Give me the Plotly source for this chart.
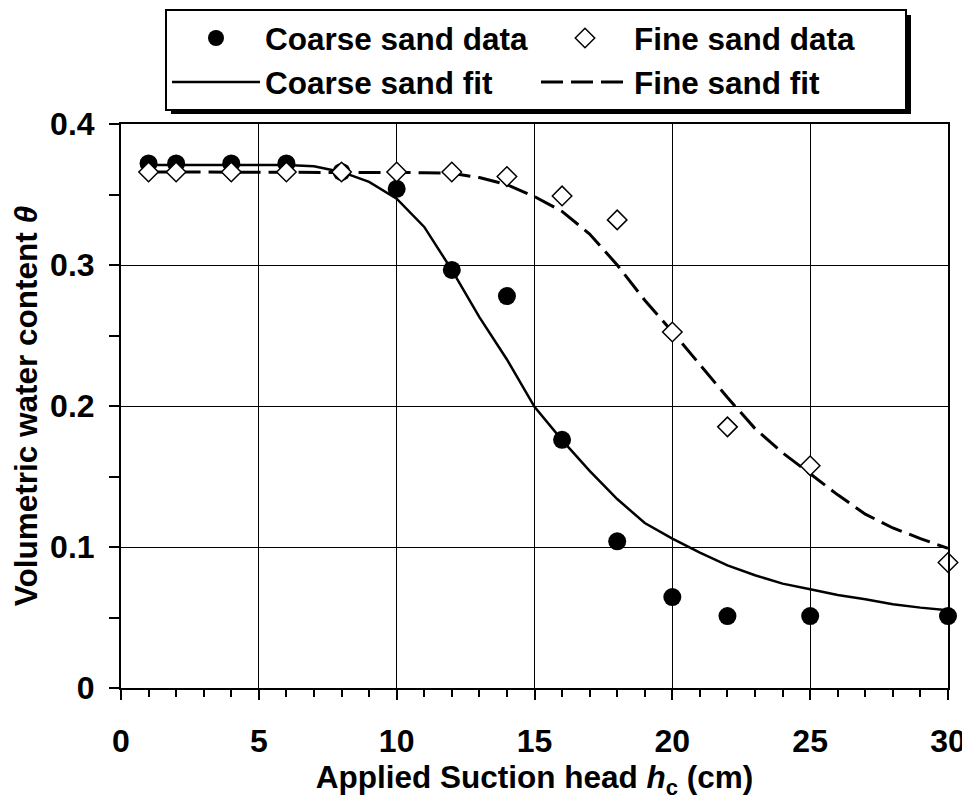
import plotly.graph_objects as go

# ---- data ----
head_data = [1, 2, 4, 6, 8, 10, 12, 14, 16, 18, 20, 22, 25, 30]
coarse_data = [0.372, 0.372, 0.372, 0.372, 0.366, 0.354, 0.2965, 0.278, 0.176, 0.104, 0.0645, 0.051, 0.051, 0.051]
fine_data = [0.366, 0.366, 0.366, 0.366, 0.366, 0.366, 0.366, 0.3627, 0.349, 0.332, 0.2525, 0.1852, 0.1576, 0.089]

head_fit = [1, 2, 4, 6, 7, 8, 9, 10, 11, 12, 13, 14, 15, 16, 17, 18, 19, 20, 21, 22, 23, 24, 25, 26, 27, 28, 29, 30]
coarse_fit = [0.371, 0.371, 0.371, 0.371, 0.370, 0.366, 0.359, 0.347, 0.327, 0.2965, 0.263, 0.233, 0.1994, 0.1758,
              0.154, 0.134, 0.117, 0.106, 0.096, 0.087, 0.080, 0.074, 0.070, 0.066, 0.063, 0.0594, 0.057, 0.0551]
fine_fit = [0.366, 0.366, 0.366, 0.366, 0.366, 0.366, 0.366, 0.366, 0.3655, 0.365, 0.362, 0.357, 0.3485, 0.338,
            0.322, 0.300, 0.275, 0.2527, 0.229, 0.206, 0.184, 0.1668, 0.152, 0.137, 0.1233, 0.1135, 0.106, 0.099]

x_ticks = [0, 5, 10, 15, 20, 25, 30]
y_ticks = [0, 0.1, 0.2, 0.3, 0.4]
y_tick_labels = ["0", "0.1", "0.2", "0.3", "0.4"]

FONT = "Liberation Sans, Arial, sans-serif"
FS_TICK = 32
FS_TITLE = 31.5
FS_LEG = 31.5

fig = go.Figure()

fig.add_trace(go.Scatter(
    x=head_fit, y=coarse_fit, mode="lines", name="Coarse sand fit",
    line=dict(color="black", width=2.5), legendrank=3))
fig.add_trace(go.Scatter(
    x=head_fit, y=fine_fit, mode="lines", name="Fine sand fit",
    line=dict(color="black", width=3, dash="22px,8px"), legendrank=4))
fig.add_trace(go.Scatter(
    x=head_data, y=coarse_data, mode="markers", name="Coarse sand data", cliponaxis=False,
    marker=dict(symbol="circle", size=18, color="black"), legendrank=1))
fig.add_trace(go.Scatter(
    x=head_data, y=fine_data, mode="markers", name="Fine sand data", cliponaxis=False,
    marker=dict(symbol="diamond", size=15, color="white", line=dict(color="black", width=1.5)),
    legendrank=2))

# page is shown with an 8px body margin
OFF = 8
W, H = 970 - OFF, 802 - OFF
PL, PR, PT, PB = 121, 948, 124, 688  # plot area in page pixels
ml, mr, mt, mb = PL - OFF, W - (PR - OFF), PT - OFF, H - (PB - OFF)


def px(xp):
    return (xp - PL) / (PR - PL)


def py(yp):
    return (PB - yp) / (PB - PT)


# legend drop shadow
fig.add_shape(type="rect", xref="paper", yref="paper",
              x0=px(171), x1=px(911), y0=py(114), y1=py(15),
              fillcolor="black", line=dict(width=0), layer="above")

fig.update_layout(
    width=W, height=H,
    margin=dict(l=ml, r=mr, t=mt, b=mb, autoexpand=False),
    paper_bgcolor="white", plot_bgcolor="white",
    font=dict(family=FONT, size=FS_TITLE, color="black", weight="bold"),
    showlegend=True,
    legend=dict(
        orientation="h", x=px(165), y=py(9), xanchor="left", yanchor="top",
        entrywidth=266, entrywidthmode="pixels", itemwidth=88,
        bgcolor="white", bordercolor="black", borderwidth=2,
        font=dict(family=FONT, size=FS_LEG, color="black", weight="bold"),
        traceorder="normal", itemclick=False,
    ),
    xaxis=dict(
        range=[0, 30], tickvals=x_ticks, showgrid=True, gridcolor="black", gridwidth=1,
        showline=True, linecolor="black", linewidth=2, mirror=True,
        ticks="outside", ticklen=10, tickwidth=1.5, tickcolor="black",
        ticklabelstandoff=14, zeroline=False,
        minor=dict(dtick=1, ticks="outside", ticklen=7, tickwidth=1.5, tickcolor="black", showgrid=False),
        tickfont=dict(family=FONT, size=FS_TICK, weight="bold"),
        title=dict(text="Applied Suction head <i>h</i><sub>c</sub> (cm)", standoff=2,
                   font=dict(family=FONT, size=FS_TITLE, weight="bold")),
    ),
    yaxis=dict(
        range=[0, 0.4], tickvals=y_ticks, ticktext=y_tick_labels, showgrid=True,
        gridcolor="black", gridwidth=1,
        showline=True, linecolor="black", linewidth=2, mirror=True,
        ticks="outside", ticklen=10, tickwidth=1.5, tickcolor="black",
        ticklabelstandoff=8, zeroline=False,
        minor=dict(dtick=0.05, ticks="outside", ticklen=10, tickwidth=1.5, tickcolor="black", showgrid=False),
        tickfont=dict(family=FONT, size=FS_TICK, weight="bold"),
        title=dict(text="Volumetric water content <i>θ</i>", standoff=6,
                   font=dict(family=FONT, size=FS_TITLE, weight="bold")),
    ),
)

fig.write_html("out.html")
